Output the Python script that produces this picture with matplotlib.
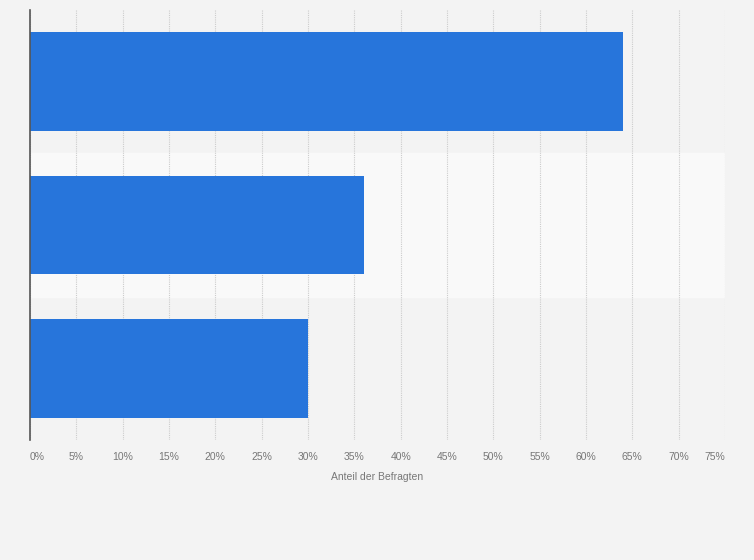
import matplotlib.pyplot as plt
import numpy as np

categories = ['A', 'B', 'C']
values = [64, 36, 30]
ticks = list(range(0, 80, 5))
tick_labels = [f'{t}%' for t in ticks]

plt.rcParams['font.family'] = ['Liberation Sans', 'DejaVu Sans']

bg = '#f3f3f3'
fig = plt.figure(figsize=(7.54, 5.6), dpi=100, facecolor=bg)
ax = fig.add_axes([30 / 754, 1 - 440 / 560, 695 / 754, 430 / 560])
ax.set_facecolor(bg)

y = np.arange(len(categories))
ax.axhspan(0.5, 1.5, color='#f9f9f9', zorder=0)
ax.barh(y, values, height=0.69, color='#2775db', zorder=3)

ax.set_xlim(0, 75)
ax.set_ylim(2.5, -0.5)
ax.set_yticks([])
ax.set_xticks(ticks)
ax.set_xticklabels(tick_labels, fontsize=7.5, color='#777777')
labels = ax.get_xticklabels()
labels[0].set_ha('left')
labels[-1].set_ha('right')
ax.tick_params(axis='x', length=0, pad=9)
ax.grid(axis='x', color='#cccccc', linestyle=(0, (1, 1)), linewidth=0.8, zorder=1)
ax.set_axisbelow(True)

for s in ['top', 'right', 'bottom']:
    ax.spines[s].set_visible(False)
ax.spines['left'].set_color('#555555')
ax.spines['left'].set_linewidth(1.2)
ax.spines['left'].set_zorder(4)

ax.set_xlabel('Anteil der Befragten', fontsize=7.5, color='#777777', labelpad=7)

fig.savefig('out.png', dpi=100, facecolor=bg)
